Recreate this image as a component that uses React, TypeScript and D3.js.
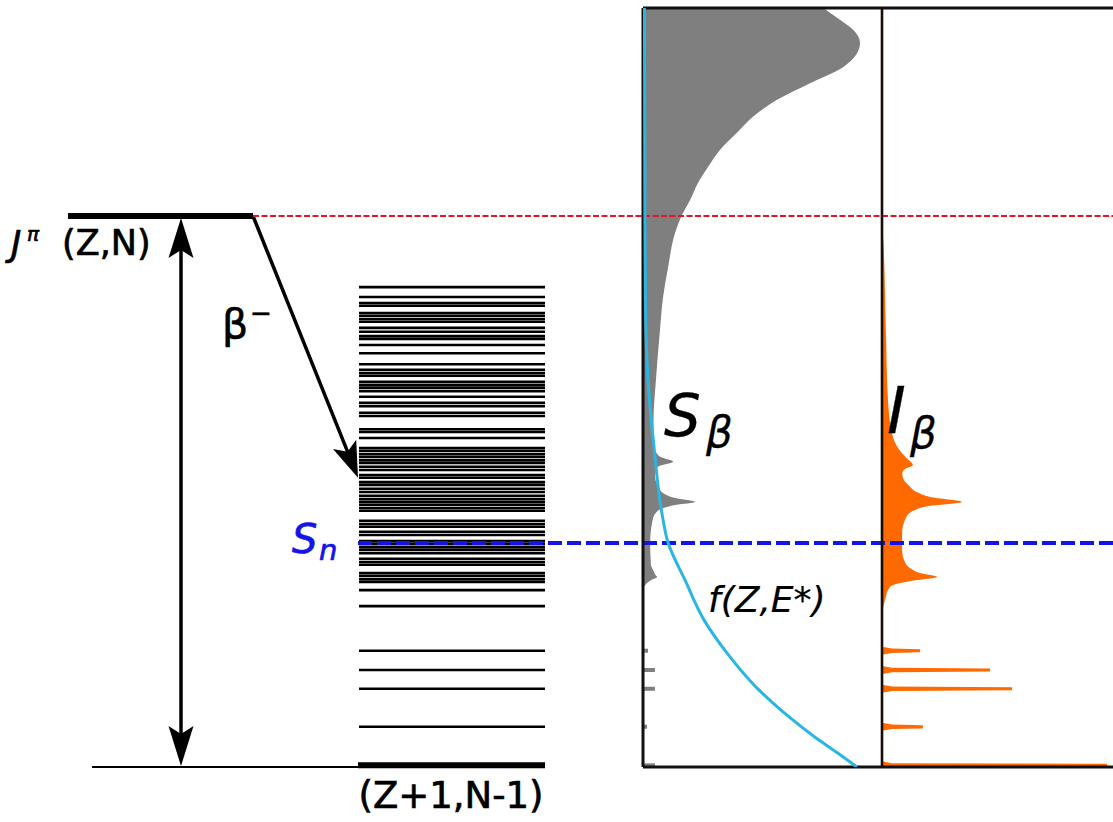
import React from 'react';
import * as d3 from 'd3';

// ---- data (energies in MeV) ----
const Q_VALUE = 10;
const SN_VALUE = 4.065;
const E_TOP = 13.775;
const BETA_TARGET_E = 5.25;

// daughter (Z+1,N-1) excited levels
const levelEnergies = [
  8.71, 8.53, 8.42, 8.37, 8.24, 8.19, 8.13, 8.08, 7.97, 7.9, 7.82, 7.77, 7.66, 7.51,
  7.31, 7.21, 7.15, 7.1, 6.99, 6.93, 6.88, 6.82, 6.72, 6.61, 6.55, 6.43, 6.37, 6.13,
  6.08, 5.97, 5.79, 5.74, 5.68, 5.63, 5.57, 5.52, 5.45, 5.39, 5.3, 5.25, 5.17, 5.12,
  5.05, 4.99, 4.92, 4.86, 4.81, 4.76, 4.7, 4.65, 4.47, 4.41, 4.36, 4.27, 4.21, 4.1,
  4.05, 3.99, 3.94, 3.88, 3.78, 3.72, 3.67, 3.52, 3.47, 3.41, 3.36, 3.21, 2.92, 2.11,
  1.76, 1.42, 0.73,
];
const groundEnergy = 0.03;

// strength function S_beta (continuum part)
const sbetaE = [
  13.78, 13.56, 13.38, 13.14, 12.92, 12.7, 12.41, 12.11, 11.8, 11.51, 11.2, 10.89,
  10.6, 10.29, 9.98, 9.69, 9.07, 8.53, 7.93, 7.02, 6.3, 5.84, 5.7, 5.62, 5.54, 5.47,
  5.4, 5.3, 5.1, 4.95, 4.88, 4.81, 4.76, 4.7, 4.62, 4.48, 4.07, 3.67, 3.57, 3.5, 3.45,
  3.4, 3.33, 3.28, 3.18,
];
const sbetaV = [
  75.3, 82.4, 87.9, 90.8, 89.1, 83.7, 69.9, 56.1, 46.0, 39.3, 32.2, 27.2,
  23.0, 19.7, 15.9, 13.4, 10.5, 8.4, 7.1, 5.4, 4.4, 4.4, 5.6, 7.6, 12.6, 7.2,
  5.3, 5.0, 6.2, 9.2, 13.5, 21.8, 14.0, 8.5, 5.5, 4.0, 3.0, 3.3, 4.3, 5.0, 5.9,
  3.6, 1.5, 0.6, 0.0,
];

// beta intensity I_beta (continuum part)
const ibetaE = [
  9.9, 9.69, 7.88, 6.66, 6.06, 5.8, 5.68, 5.6, 5.48, 5.41, 5.34, 5.26, 5.1, 4.98,
  4.9, 4.81, 4.74, 4.66, 4.54, 4.25, 3.94, 3.7, 3.6, 3.52, 3.45, 3.39, 3.33, 3.27,
  3.03, 2.85,
];
const ibetaV = [
  0.0, 0.4, 1.7, 2.6, 4.3, 6.8, 9.0, 10.8, 13.4, 10.0, 8.8, 9.0, 11.8, 15.5,
  20.8, 34.6, 21.0, 14.0, 10.6, 8.7, 8.7, 10.2, 12.6, 16.5, 23.8, 14.5, 7.0, 3.5,
  1.3, 0.3,
];

// discrete low-lying transitions
const lineE = [2.11, 1.76, 1.42, 0.73, 0.03];
const lineSbeta = [2.1, 5.0, 5.0, 1.7, 5.0];
const lineIbeta = [16.5, 46.8, 56.3, 17.7, 97.4];

// Fermi function f(Z,E*)
const fermiE = [13.775, 10.0, 8.48, 7.02, 5.81, 4.61, 4.07, 3.39, 2.67, 2.07, 1.45, 1.16, 0.85, 0.54, 0.25, 0.0];
const fermiV = [0.6, 0.8, 1.0, 2.1, 4.6, 7.9, 10.5, 17.6, 25.5, 35.1, 47.3, 54.4, 62.8, 72.0, 81.6, 89.5];

// ---- layout ----
const W = 1113;
const H = 822;
const FONT = 'DejaVu Sans';
const P_LEFT = 643;
const P_MID = 882;
const P_RIGHT = 1113;

function arrowHead(tx: number, ty: number, dx: number, dy: number, L: number, hw: number, notch: number) {
  const n = Math.hypot(dx, dy);
  const ux = dx / n, uy = dy / n;
  const px = -uy, py = ux;
  const bx = tx - ux * L, by = ty - uy * L;
  const nx = tx - ux * notch, ny = ty - uy * notch;
  return `M${tx},${ty}L${bx + px * hw},${by + py * hw}L${nx},${ny}L${bx - px * hw},${by - py * hw}Z`;
}

export default function App() {
  const y = d3.scaleLinear().domain([0, Q_VALUE]).range([767, 216]);
  const xS = d3.scaleLinear().domain([0, 100]).range([P_LEFT, P_MID]);
  const xI = d3.scaleLinear().domain([0, 100]).range([P_MID, P_RIGHT]);
  const yTop = y(E_TOP);
  const yBot = y(0);
  const yQ = y(Q_VALUE);
  const ySn = y(SN_VALUE);

  const sIdx = d3.range(sbetaE.length);
  const sArea = d3
    .area<number>()
    .y((i) => y(sbetaE[i]))
    .x0(P_LEFT)
    .x1((i) => xS(sbetaV[i]))
    .curve(d3.curveMonotoneY)(sIdx) as string;

  const iIdx = d3.range(ibetaE.length);
  const iArea = d3
    .area<number>()
    .y((i) => y(ibetaE[i]))
    .x0(P_MID)
    .x1((i) => xI(ibetaV[i]))
    .curve(d3.curveMonotoneY)(iIdx) as string;

  const fIdx = d3.range(fermiE.length);
  const fLine = d3
    .line<number>()
    .x((i) => xS(fermiV[i]))
    .y((i) => y(fermiE[i]))
    .curve(d3.curveMonotoneY)(fIdx) as string;

  const orange = '#ff6a00';
  const gray = '#7f7f7f';
  const blue = '#1414ea';

  const bx0 = 253, by0 = yQ;
  const btx = 358, bty = y(BETA_TARGET_E);

  return (
    <svg width={W} height={H} style={{ position: 'absolute', left: 0, top: 0, background: '#fff' }}>
      <defs>
        <clipPath id="clipS">
          <rect x={P_LEFT} y={yTop} width={P_MID - P_LEFT} height={yBot - yTop} />
        </clipPath>
        <clipPath id="clipI">
          <rect x={P_MID} y={yTop} width={P_RIGHT - P_MID} height={yBot - yTop} />
        </clipPath>
      </defs>
      <rect x={0} y={0} width={W} height={H} fill="#fff" />

      {/* level scheme */}
      {levelEnergies.map((e, i) => (
        <line key={i} x1={359} x2={545} y1={y(e)} y2={y(e)} stroke="#000" strokeWidth={2.6} />
      ))}
      <line x1={92} x2={360} y1={yBot} y2={yBot} stroke="#000" strokeWidth={2.2} />
      <line x1={358} x2={545} y1={y(groundEnergy)} y2={y(groundEnergy)} stroke="#000" strokeWidth={6} />
      <line x1={68} x2={253} y1={yQ} y2={yQ} stroke="#000" strokeWidth={6} />

      {/* Q double arrow */}
      <line x1={181} x2={181} y1={yQ + 30} y2={yBot - 30} stroke="#000" strokeWidth={3.5} />
      <path d={arrowHead(181, yQ + 2, 0, -1, 40, 12.5, 32)} fill="#000" />
      <path d={arrowHead(181, yBot - 1, 0, 1, 40, 12.5, 32)} fill="#000" />

      {/* beta arrow */}
      <line x1={bx0} y1={by0} x2={btx - (btx - bx0) * 0.09} y2={bty - (bty - by0) * 0.09} stroke="#000" strokeWidth={3.5} />
      <path d={arrowHead(btx, bty, btx - bx0, bty - by0, 36, 12.5, 28)} fill="#000" />

      {/* S_beta panel */}
      <g clipPath="url(#clipS)">
        <path d={sArea} fill={gray} />
        {lineE.map((e, i) => (
          <rect key={i} x={P_LEFT} y={y(e) - 2} width={xS(lineSbeta[i]) - P_LEFT} height={4} fill={gray} />
        ))}
      </g>

      {/* I_beta panel */}
      <g clipPath="url(#clipI)">
        <path d={iArea} fill={orange} />
        {lineE.map((e, i) => {
          const yy = y(e);
          const x0 = P_MID;
          const x1 = xI(lineIbeta[i]);
          return (
            <path
              key={i}
              d={`M${x0},${yy - 4}L${x0 + 10},${yy - 2.2}L${x1},${yy - 1.6}L${x1},${yy + 1.6}L${x0 + 10},${yy + 2.2}L${x0},${yy + 4}Z`}
              fill={orange}
            />
          );
        })}
      </g>

      {/* reference lines */}
      <line x1={253} x2={P_RIGHT} y1={yQ} y2={yQ} stroke="#e3162a" strokeWidth={1.8} strokeDasharray="6 2.5" />
      <line x1={358} x2={P_RIGHT} y1={ySn} y2={ySn} stroke={blue} strokeWidth={4} strokeDasharray="14 5" />

      {/* panel frame */}
      <line x1={P_LEFT} x2={P_RIGHT} y1={yTop} y2={yTop} stroke="#111" strokeWidth={3} />
      <line x1={P_LEFT} x2={P_RIGHT} y1={yBot} y2={yBot} stroke="#111" strokeWidth={3} />
      <line x1={P_LEFT} x2={P_LEFT} y1={yTop} y2={yBot} stroke="#111" strokeWidth={3} />
      <line x1={P_MID} x2={P_MID} y1={yTop} y2={yBot} stroke="#1a0c05" strokeWidth={2.6} />

      {/* Fermi function */}
      <g clipPath="url(#clipS)">
        <path d={fLine} fill="none" stroke="#2ab6e4" strokeWidth={3} />
      </g>

      {/* labels */}
      <g fontFamily={FONT} fill="#000" stroke="#000" strokeWidth={0.7}>
        <text x={11} y={256} fontSize={35} fontStyle="italic">J</text>
        <text x={27} y={241} fontSize={20} fontStyle="italic">π</text>
        <text x={62} y={255} fontSize={35}>(Z,N)</text>
        <text x={222} y={338} fontSize={41}>β</text>
        <text x={250} y={322} fontSize={26}>−</text>
        <text x={451} y={808} fontSize={37} textAnchor="middle">(Z+1,N-1)</text>
        <text x={292} y={553} fontSize={40} fontStyle="italic" fill={blue} stroke={blue}>S</text>
        <text x={319} y={560} fontSize={29} fontStyle="italic" fill={blue} stroke={blue}>n</text>
        <text x={664} y={436} fontSize={58} fontStyle="italic" strokeWidth={0.3}>S</text>
        <text x={706} y={447} fontSize={42} fontStyle="italic" strokeWidth={0.3}>β</text>
        <text x={887} y={433} fontSize={64} fontStyle="italic" strokeWidth={0.3}>I</text>
        <text x={910} y={448} fontSize={42} fontStyle="italic" strokeWidth={0.3}>β</text>
        <text x={708} y={612} fontSize={36} fontStyle="italic" strokeWidth={0.2}>f(Z,E*)</text>
      </g>
    </svg>
  );
}
